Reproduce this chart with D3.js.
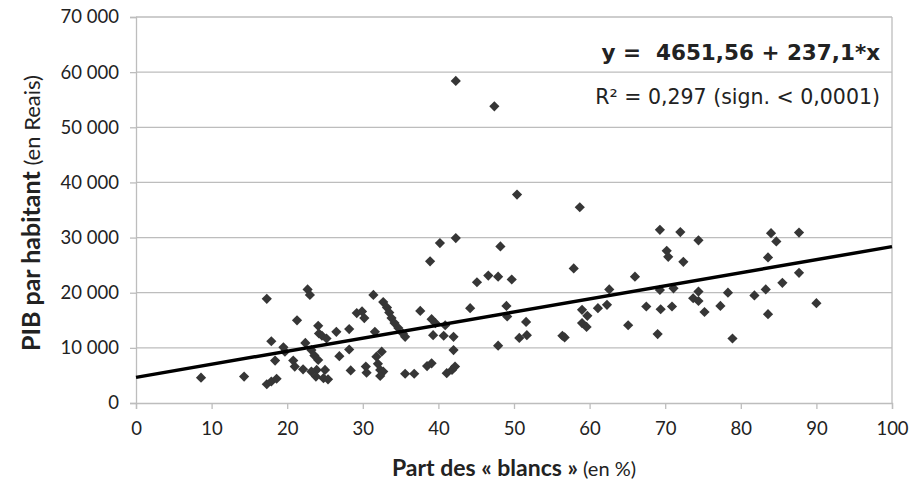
<!DOCTYPE html>
<html lang="fr">
<head>
<meta charset="UTF-8">
<title>PIB par habitant et part des blancs</title>
<script src="https://d3js.org/d3.v7.min.js"></script>
<style>
  body { margin: 0; background: #fff; }
  text { font-family: "Lato", "DejaVu Sans", sans-serif; fill: #222; }
</style>
</head>
<body>
<div id="chart"></div>
<script>
// Part des « blancs » (en %)
const partBlancs = [
  8.6, 14.3, 17.3, 17.9, 18.4, 17.3, 17.9, 18.6, 19.5, 19.7,
  21.3, 20.8, 21.0, 22.1, 22.4, 22.7, 23.0, 23.2, 23.6, 24.1,
  23.9, 23.2, 23.8, 24.8, 25.0, 25.4, 24.1, 24.2, 24.6, 25.2,
  26.5, 26.9, 28.2, 28.2, 28.4, 29.2, 29.9, 30.2, 30.4, 30.5,
  31.4, 31.6, 31.8, 32.5, 32.0, 32.3, 32.7, 32.3, 32.7, 33.2,
  33.5, 33.8, 34.2, 34.7, 35.3, 35.6, 35.6, 36.8, 37.6, 38.5,
  39.1, 38.9, 39.1, 39.6, 39.3, 40.7, 40.9, 40.2, 42.0, 42.0,
  41.1, 41.8, 42.2, 42.3, 42.3, 44.2, 45.1, 46.6, 47.4, 47.9,
  47.9, 48.2, 49.0, 49.1, 49.7, 50.4, 50.7, 51.7, 51.6, 56.4,
  56.7, 57.9, 58.7, 59.0, 59.7, 59.0, 59.6, 61.1, 62.3, 62.6,
  65.1, 66.0, 67.5, 69.3, 69.3, 69.4, 69.0, 70.2, 70.4, 71.1,
  70.9, 72.0, 72.4, 74.4, 74.4, 73.7, 74.4, 75.2, 77.3, 78.3,
  78.9, 81.8, 83.3, 83.6, 83.6, 84.0, 84.7, 85.5, 87.7, 87.7,
  90.0
];
// PIB par habitant (en Reais)
const pibHabitant = [
  4600, 4800, 18900, 11200, 7700, 3400, 3900, 4400, 10100, 9300,
  15000, 7700, 6600, 6100, 10900, 20600, 19600, 9600, 8600, 7800,
  6000, 5700, 4800, 4500, 6000, 4300, 14000, 12600, 12200, 11700,
  12900, 8500, 13400, 9700, 5900, 16300, 16600, 15400, 6600, 5500,
  19600, 12900, 8400, 9300, 7100, 6000, 5700, 4900, 18300, 17300,
  16400, 15400, 14500, 13600, 12600, 12000, 5300, 5300, 16700, 6700,
  7200, 25700, 15200, 14500, 12300, 12200, 14100, 29000, 12000, 9600,
  5400, 6000, 6600, 29900, 58400, 17200, 21900, 23100, 53800, 22900,
  10400, 28400, 17600, 15700, 22400, 37800, 11800, 12300, 14700, 12200,
  11900, 24400, 35500, 16900, 15800, 14500, 13800, 17200, 17800, 20600,
  14100, 22900, 17500, 31400, 20500, 17000, 12500, 27600, 26500, 20800,
  17500, 31000, 25600, 29500, 20200, 19000, 18500, 16500, 17600, 20000,
  11700, 19500, 20600, 26400, 16100, 30800, 29300, 21800, 23600, 30900,
  18100
];
const xTicks = [0, 10, 20, 30, 40, 50, 60, 70, 80, 90, 100];
const yTicks = [0, 10000, 20000, 30000, 40000, 50000, 60000, 70000];
const intercept = 4651.56;
const slope = 237.1;
const equationText = "y =  4651,56 + 237,1*x";
const r2Text = "R² = 0,297 (sign. < 0,0001)";

const width = 915, height = 482;
const margin = {top: 17, right: 23, bottom: 79, left: 136};

const fr = d3.formatLocale({decimal: ",", thousands: "\u00a0", grouping: [3], currency: ["", " €"]});
const fmt = fr.format(",d");

const svg = d3.select("#chart").append("svg")
  .attr("width", width)
  .attr("height", height);

const x = d3.scaleLinear().domain([0, 100]).range([margin.left, width - margin.right]);
const y = d3.scaleLinear().domain([0, 70000]).range([height - margin.bottom, margin.top]);

// gridlines
svg.append("g")
  .selectAll("line")
  .data(yTicks.filter(d => d > 0))
  .enter().append("line")
  .attr("x1", x(0)).attr("x2", x(100))
  .attr("y1", d => y(d)).attr("y2", d => y(d))
  .attr("stroke", "#bdbdbd").attr("stroke-width", 1.3);

// right border
svg.append("line")
  .attr("x1", x(100)).attr("x2", x(100))
  .attr("y1", y(0)).attr("y2", y(70000))
  .attr("stroke", "#bdbdbd").attr("stroke-width", 1.3);

// axes
const xAxis = svg.append("g")
  .attr("transform", `translate(0,${y(0)})`)
  .call(d3.axisBottom(x).tickValues(xTicks).tickSize(6).tickPadding(13).tickFormat(d3.format("d")));

const yAxis = svg.append("g")
  .attr("transform", `translate(${x(0)},0)`)
  .call(d3.axisLeft(y).tickValues(yTicks).tickSize(6).tickPadding(11).tickFormat(fmt));

[xAxis, yAxis].forEach(g => {
  g.select(".domain").attr("stroke", "#bdbdbd").attr("stroke-width", 1.3);
  g.selectAll(".tick line").attr("stroke", "#bdbdbd").attr("stroke-width", 1.3);
  g.selectAll(".tick text").attr("font-size", 18.5).attr("fill", "#222")
    .style("font-family", "Lato, 'DejaVu Sans', sans-serif");
});

// points
const points = partBlancs.map((v, i) => ({x: v, y: pibHabitant[i]}));
const diamond = d3.symbol().type(d3.symbolSquare).size(52);
svg.append("g")
  .selectAll("path")
  .data(points)
  .enter().append("path")
  .attr("d", diamond)
  .attr("transform", d => `translate(${x(d.x)},${y(d.y)}) rotate(45)`)
  .attr("fill", "#363636");

// regression line
svg.append("line")
  .attr("x1", x(0)).attr("y1", y(intercept))
  .attr("x2", x(100)).attr("y2", y(intercept + slope * 100))
  .attr("stroke", "#000").attr("stroke-width", 3.5);

// annotation
svg.append("text")
  .attr("x", 880).attr("y", 60)
  .attr("text-anchor", "end")
  .attr("font-size", 21.5).attr("font-weight", "bold")
  .style("font-family", "'DejaVu Sans', sans-serif")
  .style("white-space", "pre")
  .text(equationText);

svg.append("text")
  .attr("x", 880).attr("y", 104)
  .attr("text-anchor", "end")
  .attr("font-size", 20.5)
  .style("font-family", "'DejaVu Sans', sans-serif")
  .text(r2Text);

// axis titles
const xt = svg.append("text")
  .attr("x", (x(0) + x(100)) / 2).attr("y", 476)
  .attr("text-anchor", "middle");
xt.append("tspan").attr("font-size", 23).attr("font-weight", "bold").text("Part des « blancs »");
xt.append("tspan").attr("font-size", 20).text(" (en %)");

const yt = svg.append("text")
  .attr("transform", `translate(40,${(y(0) + y(70000)) / 2 + 3}) rotate(-90)`)
  .attr("text-anchor", "middle");
yt.append("tspan").attr("font-size", 25).attr("font-weight", "bold").text("PIB par habitant");
yt.append("tspan").attr("font-size", 22).text(" (en Reais)");
</script>
</body>
</html>
